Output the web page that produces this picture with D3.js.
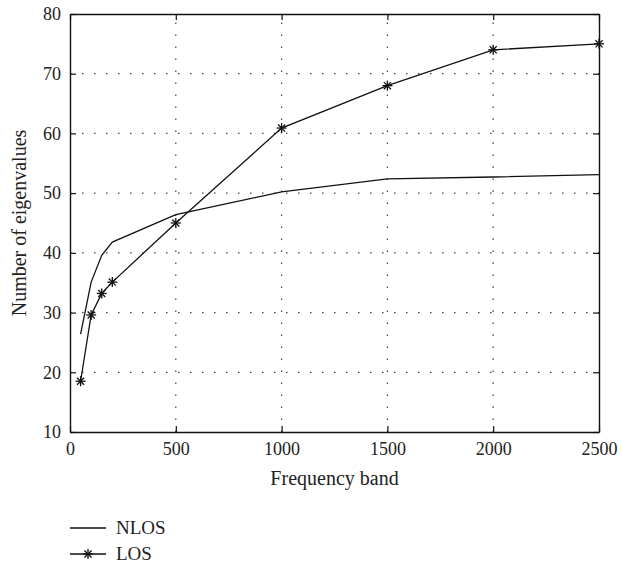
<!DOCTYPE html>
<html>
<head>
<meta charset="utf-8">
<script src="https://cdn.jsdelivr.net/npm/d3@7"></script>
<style>
  body { margin: 0; background: #fff; }
  text { font-family: "Liberation Serif", "DejaVu Serif", serif; fill: #222; }
</style>
</head>
<body>
<svg id="chart" width="621" height="565"></svg>
<script>
// values
const bands = [50, 100, 150, 200, 500, 1000, 1500, 2000, 2500];
const nlos = [26.4, 35.1, 39.6, 41.8, 46.4, 50.2, 52.4, 52.7, 53.1];
const los = [18.5, 29.6, 33.2, 35.1, 45.0, 60.9, 68.0, 74.0, 75.0];
const xTicks = [0, 500, 1000, 1500, 2000, 2500];
const yTicks = [10, 20, 30, 40, 50, 60, 70, 80];

const svg = d3.select("#chart");
const pLeft = 70, pRight = 599, pTop = 14, pBottom = 432;

const x = d3.scaleLinear().domain([0, 2500]).range([pLeft, pRight]);
const y = d3.scaleLinear().domain([10, 80]).range([pBottom, pTop]);

// dotted grid
const grid = svg.append("g")
  .attr("stroke", "#444")
  .attr("stroke-width", 1.2)
  .attr("stroke-dasharray", "1.5,10.5");
grid.selectAll(".gx").data(xTicks.slice(1, -1)).enter().append("line")
  .attr("x1", d => x(d)).attr("x2", d => x(d))
  .attr("y1", pBottom).attr("y2", pTop);
grid.selectAll(".gy").data(yTicks.slice(1, -1)).enter().append("line")
  .attr("y1", d => y(d)).attr("y2", d => y(d))
  .attr("x1", pLeft).attr("x2", pRight);

// axes, ticks pointing inward
svg.append("g").attr("transform", `translate(0,${pBottom})`)
  .call(d3.axisBottom(x).tickValues(xTicks).tickFormat(d3.format("d"))
    .tickSizeInner(-6).tickSizeOuter(0).tickPadding(10));
svg.append("g").attr("transform", `translate(${pLeft},0)`)
  .call(d3.axisLeft(y).tickValues(yTicks).tickSizeInner(-6).tickSizeOuter(0).tickPadding(9));
svg.append("g").attr("transform", `translate(0,${pTop})`)
  .call(d3.axisTop(x).tickValues(xTicks).tickSizeInner(-6).tickSizeOuter(0).tickFormat(""));
svg.append("g").attr("transform", `translate(${pRight},0)`)
  .call(d3.axisRight(y).tickValues(yTicks).tickSizeInner(-6).tickSizeOuter(0).tickFormat(""));

svg.selectAll(".domain").attr("stroke", "#111").attr("stroke-width", 1.4);
svg.selectAll(".tick line").attr("stroke", "#111").attr("stroke-width", 1.2);
svg.selectAll(".tick text").attr("font-size", 18)
  .attr("font-family", "Liberation Serif, serif").attr("fill", "#222");

// axis labels
svg.append("text").attr("x", (pLeft + pRight) / 2).attr("y", 485)
  .attr("text-anchor", "middle").attr("font-size", 20).text("Frequency band");
svg.append("text")
  .attr("transform", `translate(26,${(pTop + pBottom) / 2}) rotate(-90)`)
  .attr("text-anchor", "middle").attr("font-size", 20).text("Number of eigenvalues");

// lines
const line = d3.line().x(d => x(d[0])).y(d => y(d[1]));
svg.append("path").datum(bands.map((b, i) => [b, nlos[i]]))
  .attr("d", line).attr("fill", "none").attr("stroke", "#111").attr("stroke-width", 1.3);
svg.append("path").datum(bands.map((b, i) => [b, los[i]]))
  .attr("d", line).attr("fill", "none").attr("stroke", "#111").attr("stroke-width", 1.3);

// asterisk marker
function star(g, cx, cy, r) {
  const s = g.append("g").attr("transform", `translate(${cx},${cy})`)
    .attr("stroke", "#111").attr("stroke-width", 1.3);
  [0, 45, 90, 135].forEach(a => {
    const t = a * Math.PI / 180;
    s.append("line")
      .attr("x1", -r * Math.cos(t)).attr("y1", -r * Math.sin(t))
      .attr("x2", r * Math.cos(t)).attr("y2", r * Math.sin(t));
  });
}
const marks = svg.append("g");
bands.forEach((b, i) => star(marks, x(b), y(los[i]), 5));

// legend
const lg = svg.append("g");
lg.append("line").attr("x1", 70).attr("x2", 106).attr("y1", 528).attr("y2", 528)
  .attr("stroke", "#111").attr("stroke-width", 1.3);
lg.append("text").attr("x", 116).attr("y", 534).attr("font-size", 19).text("NLOS");
lg.append("line").attr("x1", 70).attr("x2", 106).attr("y1", 554).attr("y2", 554)
  .attr("stroke", "#111").attr("stroke-width", 1.3);
star(lg, 88, 554, 5);
lg.append("text").attr("x", 116).attr("y", 560).attr("font-size", 19).text("LOS");
</script>
</body>
</html>
